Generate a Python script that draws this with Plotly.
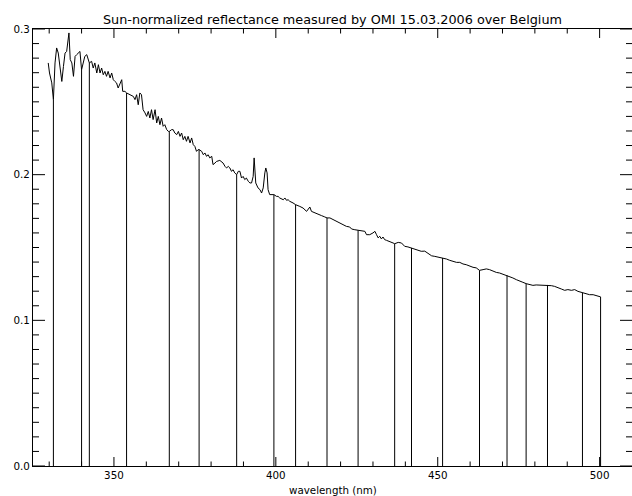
import numpy as np
import plotly.graph_objects as go

# Spectrum
wavelength_nm = [
    329.7, 330.1, 330.8, 331.3, 331.8, 332.3, 332.8, 333.3, 333.9, 334.4,
    334.9, 335.4, 335.9, 336.1, 336.5, 337.0, 337.5, 338.0, 338.5, 339.0,
    339.5, 340.0, 340.5, 341.0, 341.6, 342.1, 342.4, 343.1, 343.6, 344.1,
    344.7, 345.2, 345.7, 346.2, 346.7, 347.2, 347.7, 348.2, 348.8, 349.3,
    349.8, 350.3, 350.8, 351.3, 351.9, 352.4, 352.7, 353.4, 353.9, 354.9,
    356.0, 356.5, 357.0, 357.5, 358.0, 358.5, 359.0, 359.6, 360.1, 360.6,
    361.1, 361.6, 362.1, 362.7, 363.2, 363.7, 364.2, 364.7, 365.2, 365.7,
    366.3, 366.8, 367.1, 367.8, 368.3, 368.8, 369.4, 369.9, 370.4, 370.9,
    371.4, 371.9, 372.4, 372.9, 373.5, 374.0, 374.5, 375.0, 375.5, 376.0,
    376.3, 377.1, 377.6, 378.1, 378.6, 379.1, 379.6, 380.2, 380.6, 381.2,
    381.7, 382.7, 383.2, 383.7, 384.3, 384.8, 385.3, 385.8, 386.3, 386.8,
    387.3, 387.9, 388.4, 388.9, 389.4, 389.9, 390.4, 390.9, 391.5, 392.0,
    392.5, 393.0, 393.3, 393.6, 393.8, 394.5, 395.1, 395.6, 396.1, 396.6,
    396.9, 397.3, 397.6, 398.1, 398.7, 399.4, 400.2, 400.7, 401.2, 402.3,
    402.8, 403.3, 403.8, 404.3, 405.3, 406.1, 407.4, 408.4, 409.5, 410.0,
    410.5, 411.0, 412.0, 413.1, 414.1, 415.1, 415.8, 416.7, 417.7, 418.7,
    419.8, 420.8, 421.8, 422.8, 423.4, 424.4, 425.4, 426.5, 427.5, 428.0,
    429.0, 430.0, 430.6, 431.1, 431.6, 432.1, 432.6, 433.1, 433.6, 434.2,
    435.2, 436.2, 436.7, 437.8, 438.8, 439.8, 440.8, 441.9, 442.9, 443.9,
    444.9, 446.0, 447.0, 448.1, 449.1, 450.1, 451.5, 452.7, 453.7, 454.7,
    455.8, 456.8, 457.8, 458.8, 459.9, 460.9, 461.9, 462.9, 464.0, 465.0,
    466.0, 467.1, 468.1, 469.1, 470.1, 471.4, 472.2, 473.2, 474.3, 475.3,
    476.3, 477.3, 478.4, 479.4, 480.4, 481.5, 482.5, 483.9, 485.1, 486.1,
    487.1, 488.2, 489.2, 490.2, 491.3, 492.3, 493.3, 494.7, 495.9, 496.9,
    498.0, 499.0, 500.3,
]
reflectance = [
    0.2767, 0.2698, 0.2630, 0.2515, 0.2767, 0.2870, 0.2835, 0.2743, 0.2640, 0.2743,
    0.2835, 0.2846, 0.2949, 0.2973, 0.2790, 0.2767, 0.2675, 0.2812, 0.2824, 0.2835,
    0.2846, 0.2720, 0.2767, 0.2812, 0.2824, 0.2778, 0.2767, 0.2778, 0.2732, 0.2767,
    0.2698, 0.2755, 0.2698, 0.2732, 0.2686, 0.2709, 0.2675, 0.2709, 0.2664, 0.2698,
    0.2652, 0.2640, 0.2630, 0.2595, 0.2630, 0.2652, 0.2572, 0.2572, 0.2561, 0.2549,
    0.2537, 0.2515, 0.2549, 0.2480, 0.2561, 0.2549, 0.2446, 0.2424, 0.2400, 0.2434,
    0.2389, 0.2446, 0.2378, 0.2446, 0.2355, 0.2400, 0.2343, 0.2389, 0.2332, 0.2343,
    0.2309, 0.2297, 0.2297, 0.2309, 0.2309, 0.2286, 0.2275, 0.2297, 0.2263, 0.2286,
    0.2240, 0.2263, 0.2229, 0.2263, 0.2218, 0.2252, 0.2206, 0.2194, 0.2160, 0.2172,
    0.2172, 0.2160, 0.2137, 0.2149, 0.2126, 0.2137, 0.2115, 0.2126, 0.2069, 0.2080,
    0.2091, 0.2098, 0.2091, 0.2080, 0.2057, 0.2046, 0.2057, 0.2046, 0.2023, 0.2034,
    0.2012, 0.2000, 0.2023, 0.2023, 0.1977, 0.1988, 0.1966, 0.1977, 0.1954, 0.1943,
    0.1943, 0.1988, 0.2115, 0.2034, 0.1943, 0.1909, 0.1897, 0.1874, 0.1909, 0.2012,
    0.2046, 0.2012, 0.1897, 0.1863, 0.1863, 0.1863, 0.1851, 0.1851, 0.1840, 0.1828,
    0.1840, 0.1824, 0.1828, 0.1817, 0.1806, 0.1794, 0.1782, 0.1771, 0.1748, 0.1760,
    0.1778, 0.1748, 0.1737, 0.1725, 0.1719, 0.1710, 0.1703, 0.1703, 0.1691, 0.1680,
    0.1669, 0.1657, 0.1645, 0.1641, 0.1627, 0.1622, 0.1618, 0.1616, 0.1611, 0.1588,
    0.1588, 0.1600, 0.1611, 0.1588, 0.1566, 0.1577, 0.1559, 0.1572, 0.1554, 0.1549,
    0.1542, 0.1531, 0.1526, 0.1535, 0.1531, 0.1508, 0.1504, 0.1497, 0.1490, 0.1485,
    0.1474, 0.1475, 0.1458, 0.1443, 0.1439, 0.1435, 0.1428, 0.1421, 0.1412, 0.1405,
    0.1398, 0.1398, 0.1387, 0.1382, 0.1371, 0.1364, 0.1360, 0.1343, 0.1348, 0.1353,
    0.1348, 0.1336, 0.1329, 0.1325, 0.1318, 0.1309, 0.1302, 0.1291, 0.1279, 0.1272,
    0.1261, 0.1252, 0.1247, 0.1240, 0.1243, 0.1243, 0.1243, 0.1243, 0.1238, 0.1233,
    0.1222, 0.1215, 0.1206, 0.1211, 0.1206, 0.1211, 0.1199, 0.1188, 0.1183, 0.1176,
    0.1176, 0.1170, 0.1161,
]

# Wavelengths of the vertical marker lines
marker_wavelengths_nm = [
    331.3, 340.0, 342.4, 353.9, 367.1, 376.3, 387.9, 399.4, 406.1, 415.8,
    425.4, 436.7, 441.9, 451.5, 462.9, 471.4, 477.3, 483.9, 494.7, 500.3,
]

x_tick_values = [350, 400, 450, 500]
x_tick_labels = ["350", "400", "450", "500"]
x_minor_values = list(range(330, 510, 10))
y_tick_values = [0.0, 0.1, 0.2, 0.3]
y_tick_labels = ["0.0", "0.1", "0.2", "0.3"]
y_minor_values = [round(0.01 * i, 2) for i in range(0, 31)]

title_text = "Sun-normalized reflectance measured by OMI 15.03.2006 over Belgium"
x_title = "wavelength (nm)"

# Build vertical segments from the axis up to the curve
marker_tops = np.interp(marker_wavelengths_nm, wavelength_nm, reflectance)
seg_x, seg_y = [], []
for w, top in zip(marker_wavelengths_nm, marker_tops):
    seg_x += [w, w, None]
    seg_y += [0.0, float(top), None]

FONT = "DejaVu Sans"
W, H = 632, 496
ML, MR, MT, MB = 33, 0, 29, 30
PLOT_W = W - ML - MR
PLOT_H = H - MT - MB

# IDL-style inward tick marks on all four sides (drawn as layout shapes)
XT_MAJOR, XT_MINOR = 9 / PLOT_H, 4.5 / PLOT_H
YT_MAJOR, YT_MINOR = 12 / PLOT_W, 6 / PLOT_W
tick_line = dict(color="#000000", width=1)
shapes = []
for v in x_minor_values:
    ln = XT_MAJOR if v in x_tick_values else XT_MINOR
    shapes.append(dict(type="line", xref="x", yref="paper", x0=v, x1=v, y0=0, y1=ln, line=tick_line))
    shapes.append(dict(type="line", xref="x", yref="paper", x0=v, x1=v, y0=1, y1=1 - ln, line=tick_line))
for v in y_minor_values:
    ln = YT_MAJOR if any(abs(v - t) < 1e-9 for t in y_tick_values) else YT_MINOR
    shapes.append(dict(type="line", xref="paper", yref="y", x0=0, x1=ln, y0=v, y1=v, line=tick_line))
    shapes.append(dict(type="line", xref="paper", yref="y", x0=1, x1=1 - ln, y0=v, y1=v, line=tick_line))

fig = go.Figure()
fig.add_trace(go.Scatter(
    x=seg_x, y=seg_y, mode="lines",
    line=dict(color="#000000", width=1),
    hoverinfo="skip", showlegend=False,
))
fig.add_trace(go.Scatter(
    x=wavelength_nm, y=reflectance, mode="lines",
    line=dict(color="#000000", width=1),
    showlegend=False,
))

fig.update_layout(
    width=W, height=H, autosize=False,
    margin=dict(l=ML, r=MR, t=MT, b=MB, pad=0),
    paper_bgcolor="white", plot_bgcolor="white",
    font=dict(family=FONT, size=10.3, color="black"),
    title=dict(
        text=title_text, x=0.5, xref="paper",
        y=1 - 19.5 / H, yref="container", yanchor="middle", xanchor="center",
        font=dict(family=FONT, size=12.8, color="black"),
    ),
    xaxis=dict(
        range=[325, 510], automargin=False,
        tickmode="array", tickvals=x_tick_values, ticktext=x_tick_labels,
        ticks="",
        showline=True, linecolor="#000000", mirror=True,
        showgrid=False, zeroline=False,
        tickfont=dict(family=FONT, size=10.3, color="black"),
    ),
    yaxis=dict(
        range=[0, 0.3], automargin=False,
        tickmode="array", tickvals=y_tick_values, ticktext=y_tick_labels,
        ticks="",
        showline=True, linecolor="#000000", mirror=True,
        showgrid=False, zeroline=False,
        tickfont=dict(family=FONT, size=10.3, color="black"),
    ),
    shapes=shapes,
    annotations=[dict(
        text=x_title, xref="paper", x=0.5, yref="paper",
        y=(H - MB - 490) / PLOT_H,
        xanchor="center", yanchor="middle", showarrow=False,
        font=dict(family=FONT, size=10.3, color="black"),
    )],
)

fig.write_html(
    "out.html",
    config={"responsive": False, "displayModeBar": False},
    post_script="document.body.style.margin='0';document.body.style.overflow='hidden';",
)
